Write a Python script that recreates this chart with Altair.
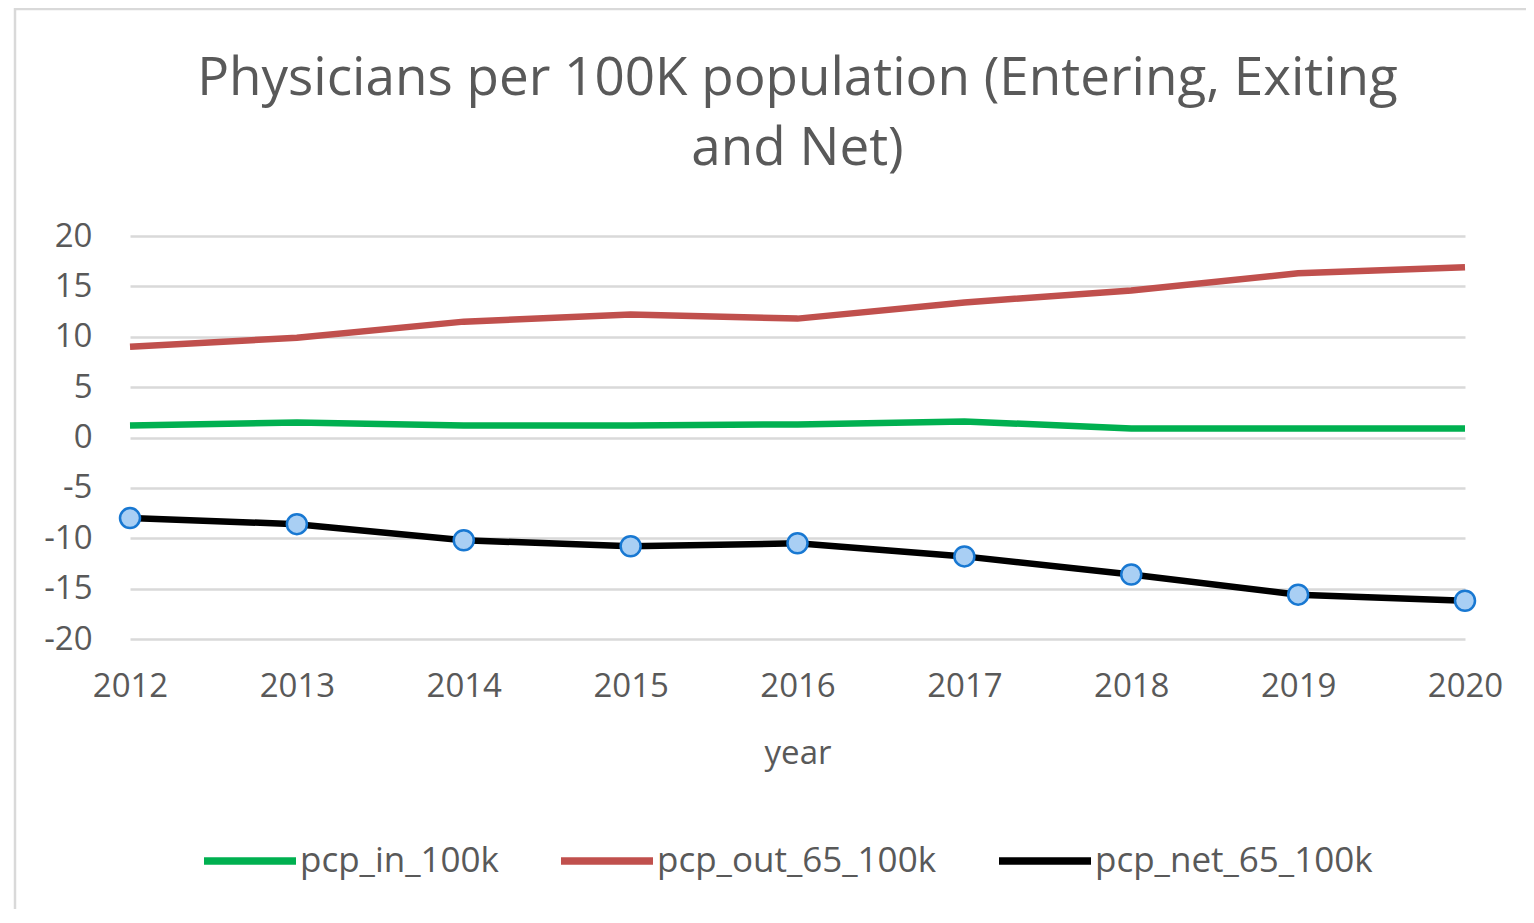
import altair as alt
import pandas as pd

years = [2012, 2013, 2014, 2015, 2016, 2017, 2018, 2019, 2020]
pcp_in_100k = [1.2, 1.5, 1.2, 1.2, 1.3, 1.6, 0.9, 0.9, 0.9]
pcp_out_65_100k = [9.0, 9.9, 11.5, 12.2, 11.8, 13.4, 14.6, 16.3, 16.9]
pcp_net_65_100k = [-8.0, -8.6, -10.2, -10.8, -10.5, -11.8, -13.6, -15.6, -16.2]

series_names = ["pcp_in_100k", "pcp_out_65_100k", "pcp_net_65_100k"]
series_colors = ["#00B050", "#C0504D", "#000000"]
y_ticks = [-20, -15, -10, -5, 0, 5, 10, 15, 20]

rows = []
for name, vals in zip(series_names, [pcp_in_100k, pcp_out_65_100k, pcp_net_65_100k]):
    for yr, v in zip(years, vals):
        rows.append({"year": yr, "value": v, "series": name})
df = pd.DataFrame(rows)
df_net = df[df["series"] == "pcp_net_65_100k"]

FONT = "Open Sans"
GRAY = "#595959"

x_enc = alt.X(
    "year:Q",
    scale=alt.Scale(domain=[2012, 2020], nice=False, zero=False),
    axis=alt.Axis(
        values=years, format="d", grid=False, domain=False, ticks=False, tickSize=0,
        labelFlush=False, labelOverlap=False,
        labelFontSize=33, labelColor=GRAY, labelFont=FONT, labelBaseline="middle",
        labelPadding=47, title="year", titleFontSize=33, titleColor=GRAY,
        titleFont=FONT, titleFontWeight="normal", titleBaseline="middle", titleY=114,
    ),
)
y_enc = alt.Y(
    "value:Q",
    scale=alt.Scale(domain=[-20, 20], nice=False),
    axis=alt.Axis(
        values=y_ticks, grid=True, gridColor="#D9D9D9", gridWidth=2.5, domain=False,
        ticks=False, tickSize=0, labelFontSize=33, labelColor=GRAY, labelFont=FONT,
        labelPadding=38, title=None, labelExpr="'' + datum.value",
    ),
)

lines = alt.Chart(df).mark_line(strokeWidth=6.5).encode(
    x=x_enc,
    y=y_enc,
    color=alt.Color(
        "series:N",
        scale=alt.Scale(domain=series_names, range=series_colors),
        legend=alt.Legend(
            title=None, orient="none", direction="horizontal", legendX=70, legendY=575,
            symbolType="stroke", symbolSize=8464, symbolStrokeWidth=7.5,
            labelFontSize=35, labelColor=GRAY, labelFont=FONT, labelOffset=0,
            labelLimit=500, columnPadding=47,
        ),
    ),
    detail="series:N",
)

points = alt.Chart(df_net).mark_point(
    shape="circle", filled=True, fill="#A9CFF4", stroke="#1878D2", strokeWidth=2.5,
    size=400, opacity=1,
).encode(
    x=alt.X("year:Q", axis=alt.Axis(grid=False)),
    y=alt.Y("value:Q"),
)

border = alt.Chart(pd.DataFrame({"a": [0]})).mark_rect(
    fillOpacity=0, stroke="#D9D9D9", strokeWidth=2.5
).encode(x=alt.value(-115), x2=alt.value(1500), y=alt.value(-227), y2=alt.value(800))

chart = alt.layer(border, lines, points).properties(
    width=1335,
    height=403,
    autosize=alt.AutoSizeParams(type="none"),
    padding={"left": 122, "top": 228, "right": 61, "bottom": 270},
    view=alt.ViewBackground(strokeWidth=0, strokeOpacity=0),
    title=alt.TitleParams(
        text=["Physicians per 100K population (Entering, Exiting", "and Net)"],
        fontSize=53, font=FONT, color=GRAY, fontWeight="normal", lineHeight=70,
        anchor="middle", offset=-168,
    ),
).configure_view(strokeWidth=0, strokeOpacity=0).configure(background="white")

chart.save("out.html", embed_options={"renderer": "svg", "actions": False})
